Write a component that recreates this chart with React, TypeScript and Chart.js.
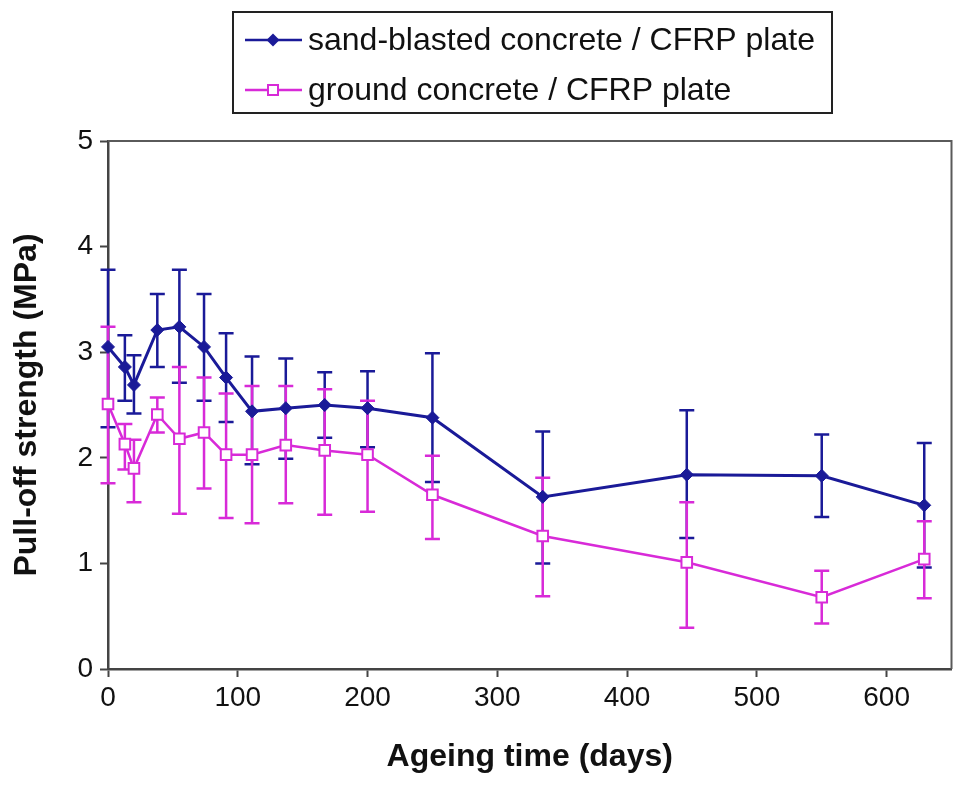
import React, { useEffect, useRef } from 'react';
import { Chart, registerables } from 'chart.js';

Chart.register(...registerables);

// ---- Data ----
const days = [0, 13, 20, 38, 55, 74, 91, 111, 137, 167, 200, 250, 335, 446, 550, 629];

const sandMean = [3.05, 2.86, 2.69, 3.21, 3.24, 3.05, 2.76, 2.44, 2.47, 2.5, 2.47, 2.38, 1.63, 1.84, 1.83, 1.55];
const sandUpper = [3.78, 3.16, 2.97, 3.55, 3.78, 3.55, 3.18, 2.96, 2.94, 2.81, 2.82, 2.99, 2.25, 2.45, 2.22, 2.14];
const sandLower = [2.29, 2.54, 2.42, 2.86, 2.71, 2.54, 2.34, 1.94, 1.99, 2.19, 2.1, 1.77, 1.0, 1.24, 1.44, 0.96];

const groundMean = [2.51, 2.13, 1.9, 2.41, 2.18, 2.24, 2.03, 2.03, 2.12, 2.07, 2.03, 1.65, 1.26, 1.01, 0.68, 1.04];
const groundUpper = [3.24, 2.32, 2.17, 2.57, 2.86, 2.76, 2.61, 2.68, 2.68, 2.65, 2.54, 2.02, 1.81, 1.58, 0.93, 1.4];
const groundLower = [1.76, 1.89, 1.58, 2.24, 1.47, 1.71, 1.43, 1.38, 1.57, 1.46, 1.49, 1.23, 0.69, 0.39, 0.43, 0.67];

const seriesLabels = ['sand-blasted concrete / CFRP plate', 'ground concrete / CFRP plate'];
const xTitle = 'Ageing time (days)';
const yTitle = 'Pull-off strength (MPa)';
const xRange = [0, 650];
const yRange = [0, 5];
const xStep = 100;
const yStep = 1;

// ---- Styles ----
const BLUE = '#1a1a98';
const MAGENTA = '#d82ad8';
const AXIS = '#444444';
const TEXT = '#111111';
const FONT = '"Liberation Sans", Arial, Helvetica, sans-serif';

const errorSets: [number[], number[], string][] = [
  [sandUpper, sandLower, BLUE],
  [groundUpper, groundLower, MAGENTA],
];

const errorBarPlugin = {
  id: 'errorBars',
  beforeDatasetsDraw(chart: any) {
    const { ctx, scales } = chart;
    const x = scales.x;
    const y = scales.y;
    ctx.save();
    ctx.lineWidth = 2.5;
    ctx.lineCap = 'butt';
    errorSets.forEach(([up, lo, col]) => {
      ctx.strokeStyle = col;
      days.forEach((d, i) => {
        const px = x.getPixelForValue(d);
        const pt = y.getPixelForValue(up[i]);
        const pb = y.getPixelForValue(lo[i]);
        ctx.beginPath();
        ctx.moveTo(px, pt);
        ctx.lineTo(px, pb);
        ctx.moveTo(px - 7.5, pt);
        ctx.lineTo(px + 7.5, pt);
        ctx.moveTo(px - 7.5, pb);
        ctx.lineTo(px + 7.5, pb);
        ctx.stroke();
      });
    });
    ctx.restore();
  },
};

const framePlugin = {
  id: 'frameAndLegend',
  afterDraw(chart: any) {
    const { ctx, chartArea } = chart;
    ctx.save();
    // plot frame (top and right)
    ctx.strokeStyle = '#5a5a5a';
    ctx.lineWidth = 2;
    ctx.beginPath();
    ctx.moveTo(chartArea.left, chartArea.top);
    ctx.lineTo(chartArea.right, chartArea.top);
    ctx.lineTo(chartArea.right, chartArea.bottom);
    ctx.stroke();

    // legend box
    const lx = 233, ly = 12, lw = 599, lh = 101;
    ctx.fillStyle = '#ffffff';
    ctx.fillRect(lx, ly, lw, lh);
    ctx.strokeStyle = '#222222';
    ctx.lineWidth = 2;
    ctx.strokeRect(lx, ly, lw, lh);

    const rows = [40, 90];
    const colors = [BLUE, MAGENTA];
    rows.forEach((ry, i) => {
      ctx.strokeStyle = colors[i];
      ctx.lineWidth = 2.5;
      ctx.beginPath();
      ctx.moveTo(245, ry);
      ctx.lineTo(302, ry);
      ctx.stroke();
      const mx = 273;
      if (i === 0) {
        ctx.fillStyle = BLUE;
        ctx.beginPath();
        ctx.moveTo(mx, ry - 6.5);
        ctx.lineTo(mx + 6.5, ry);
        ctx.lineTo(mx, ry + 6.5);
        ctx.lineTo(mx - 6.5, ry);
        ctx.closePath();
        ctx.fill();
      } else {
        ctx.fillStyle = '#ffffff';
        ctx.fillRect(mx - 5, ry - 5, 10, 10);
        ctx.strokeStyle = MAGENTA;
        ctx.lineWidth = 2;
        ctx.strokeRect(mx - 5, ry - 5, 10, 10);
      }
      ctx.fillStyle = TEXT;
      ctx.font = `32px ${FONT}`;
      ctx.textAlign = 'left';
      ctx.textBaseline = 'middle';
      ctx.fillText(seriesLabels[i], 308, ry + 1);
    });
    ctx.restore();
  },
};

export default function App() {
  const canvasRef = useRef<HTMLCanvasElement | null>(null);

  useEffect(() => {
    document.body.style.margin = '0';
    const canvas = canvasRef.current;
    if (!canvas) return;
    const chart = new Chart(canvas, {
      type: 'line',
      data: {
        datasets: [
          {
            label: seriesLabels[0],
            data: days.map((d, i) => ({ x: d, y: sandMean[i] })),
            borderColor: BLUE,
            backgroundColor: BLUE,
            borderWidth: 3,
            pointStyle: 'rectRot',
            pointRadius: 6.5,
            pointBorderWidth: 1,
            pointBackgroundColor: BLUE,
            pointBorderColor: BLUE,
            tension: 0,
            clip: false,
          },
          {
            label: seriesLabels[1],
            data: days.map((d, i) => ({ x: d, y: groundMean[i] })),
            borderColor: MAGENTA,
            backgroundColor: '#ffffff',
            borderWidth: 2.5,
            pointStyle: 'rect',
            pointRadius: 7.5,
            pointBorderWidth: 2,
            pointBackgroundColor: '#ffffff',
            pointBorderColor: MAGENTA,
            tension: 0,
            clip: false,
          },
        ],
      },
      options: {
        animation: false,
        responsive: false,
        events: [],
        layout: { padding: { top: 141, right: 2, left: 0, bottom: 0 } },
        plugins: {
          legend: { display: false },
          tooltip: { enabled: false },
        },
        scales: {
          x: {
            type: 'linear',
            min: xRange[0],
            max: xRange[1],
            afterFit: (s: any) => {
              s.height = 118;
              s.paddingRight = 0;
              s.paddingLeft = 0;
            },
            ticks: {
              stepSize: xStep,
              includeBounds: false,
              color: TEXT,
              font: { family: FONT, size: 28 },
              padding: 4,
              maxRotation: 0,
            },
            grid: {
              drawOnChartArea: false,
              drawTicks: true,
              tickLength: 8,
              tickColor: AXIS,
              tickWidth: 2,
            },
            border: { color: AXIS, width: 2.5 },
            title: {
              display: true,
              text: xTitle,
              color: TEXT,
              font: { family: FONT, size: 32, weight: 'bold' },
              padding: { top: 0, bottom: 11 },
            },
          },
          y: {
            type: 'linear',
            min: yRange[0],
            max: yRange[1],
            afterFit: (s: any) => {
              s.width = 108;
              s.paddingTop = 0;
              s.paddingBottom = 0;
            },
            ticks: {
              stepSize: yStep,
              color: TEXT,
              font: { family: FONT, size: 28 },
              padding: 7,
            },
            grid: {
              drawOnChartArea: false,
              drawTicks: true,
              tickLength: 8,
              tickColor: AXIS,
              tickWidth: 2,
            },
            border: { color: AXIS, width: 2.5 },
            title: {
              display: true,
              text: yTitle,
              color: TEXT,
              font: { family: FONT, size: 32, weight: 'bold' },
              padding: { top: 8, bottom: 0 },
            },
          },
        },
      },
      plugins: [errorBarPlugin, framePlugin],
    } as any);
    return () => chart.destroy();
  }, []);

  return (
    <div style={{ width: 961, height: 787, position: 'relative', background: '#fff' }}>
      <canvas ref={canvasRef} width={961} height={787} style={{ display: 'block' }} />
    </div>
  );
}
